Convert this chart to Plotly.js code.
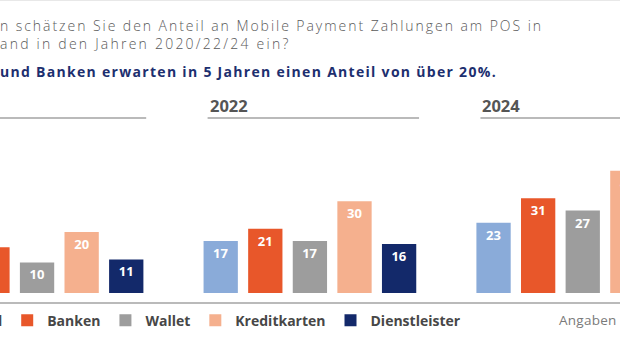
<!DOCTYPE html>
<html><head><meta charset="utf-8">
<script src="https://cdn.plot.ly/plotly-3.0.1.min.js"></script>
<style>
html,body{margin:0;padding:0;background:#fff;overflow:hidden}
#chart{width:620px;height:350px}
</style>
</head><body><div id="chart"></div>
<script>
// ---- data ----
const years = ['2020', '2022', '2024'];
const seriesNames = ['Handel', 'Banken', 'Wallet', 'Kreditkarten', 'Dienstleister'];
const handel = [12, 17, 23];
const banken = [15, 21, 31];
const wallet = [10, 17, 27];
const kreditkarten = [20, 30, 40];
const dienstleister = [11, 16, 24];
const titleLine1 = 'n schätzen Sie den Anteil an Mobile Payment Zahlungen am POS in';
const titleLine2 = 'and in den Jahren 2020/22/24 ein?';
const subtitle = 'und Banken erwarten in 5 Jahren einen Anteil von über 20%.';
const sourceNote = 'Angaben';

// ---- styles ----
const colors = ['#8aabd9', '#e8572a', '#9d9d9d', '#f5b08e', '#13296a'];
const FONT = 'Open Sans, Noto Sans, sans-serif';
const values = [handel, banken, wallet, kreditkarten, dienstleister];

const W = 620, H = 350;
const mT = 130, mB = 57;
const plotH = H - mT - mB;
const pxPerUnit = 3.055;
const yMax = plotH / pxPerUnit;
const py = (pix) => (H - mB - pix) / plotH; // pixel y -> paper y

const traces = seriesNames.map((name, i) => ({
  type: 'bar', name: name, x: years, y: values[i],
  marker: {color: colors[i], line: {width: 0}},
  text: values[i].map(String), textposition: 'inside', insidetextanchor: 'end',
  textangle: 0, constraintext: 'none',
  textfont: {family: FONT, size: 13, color: '#ffffff', weight: 700},
  hoverinfo: 'skip'
}));

// measure "Handel" legend text width to place the (cut-off) legend
const cv = document.createElement('canvas').getContext('2d');
cv.font = '700 14px "Open Sans"';
const wHandel = cv.measureText(seriesNames[0]).width;
const legendX0 = 7.2 - 45 - wHandel;

const shapes = [
  {type: 'line', xref: 'paper', yref: 'paper', x0: 0, x1: 1, y0: py(303), y1: py(303), line: {color: '#a3a3a3', width: 1.5}},
  {type: 'line', xref: 'paper', yref: 'paper', x0: 0, x1: 1, y0: py(0.5), y1: py(0.5), line: {color: '#e8e8e8', width: 1}}
];
const annotations = [
  {xref: 'paper', yref: 'paper', x: 0, xshift: -2, y: py(25.7), xanchor: 'left', yanchor: 'middle', align: 'left', showarrow: false,
    text: titleLine1, font: {family: FONT, size: 14, color: '#5a5a5a', weight: 300}},
  {xref: 'paper', yref: 'paper', x: 0, xshift: -2, y: py(43.4), xanchor: 'left', yanchor: 'middle', align: 'left', showarrow: false,
    text: titleLine2, font: {family: FONT, size: 14, color: '#5a5a5a', weight: 300}},
  {xref: 'paper', yref: 'paper', x: 0, xshift: -2, y: py(71.7), xanchor: 'left', yanchor: 'middle', align: 'left', showarrow: false,
    text: subtitle, font: {family: FONT, size: 14, color: '#1d2f6f', weight: 700}},
  {xref: 'paper', yref: 'paper', x: 557 / W, y: py(319.8), xanchor: 'left', yanchor: 'middle', align: 'left', showarrow: false,
    text: sourceNote, font: {family: FONT, size: 13.5, color: '#7a7a7a'}}
];
years.forEach((yr, g) => {
  shapes.push({type: 'line', xref: 'x', yref: 'paper', x0: g - 0.375, x1: g + 0.40, y0: py(118), y1: py(118), line: {color: '#a3a3a3', width: 1.5}});
  annotations.push({xref: 'x', yref: 'paper', x: g - 0.375, y: py(105.7), xanchor: 'left', yanchor: 'middle', align: 'left', showarrow: false, text: '<b>' + yr + '</b>', font: {family: FONT, size: 16.5, color: '#555555'}});
});

// target right edges (px) of the wide-set header lines
const textRightEdges = {0: 543, 1: 290.5, 2: 497, 3: 616.5};

const layout = {
  width: W, height: H,
  margin: {l: 0, r: 0, t: mT, b: mB, autoexpand: false},
  paper_bgcolor: '#ffffff', plot_bgcolor: '#ffffff',
  barmode: 'group', bargap: 0.1827, bargroupgap: 0.231,
  xaxis: {type: 'category', range: [-0.1358, 2.1365], visible: false, fixedrange: true},
  yaxis: {range: [0, yMax], visible: false, fixedrange: true},
  showlegend: true,
  legend: {orientation: 'h', x: legendX0 / W, xanchor: 'left', y: py(320.7), yanchor: 'middle',
    font: {family: FONT, size: 14, color: '#474747', weight: 700}, traceorder: 'normal',
    bgcolor: 'rgba(0,0,0,0)'},
  shapes: shapes, annotations: annotations,
  font: {family: FONT}
};
Plotly.newPlot('chart', traces, layout, {staticPlot: true, displayModeBar: false}).then(gd => {
  Object.keys(textRightEdges).forEach(idx => {
    const t = gd.querySelector('g.annotation[data-index="' + idx + '"] text.annotation-text');
    if (!t) return;
    t.style.letterSpacing = '0px';
    const r = t.getBoundingClientRect().right;
    const n = t.textContent.length;
    const ls = Math.max(0, (textRightEdges[idx] - r) / n);
    t.style.letterSpacing = ls.toFixed(2) + 'px';
  });
});
</script>
</body></html>
